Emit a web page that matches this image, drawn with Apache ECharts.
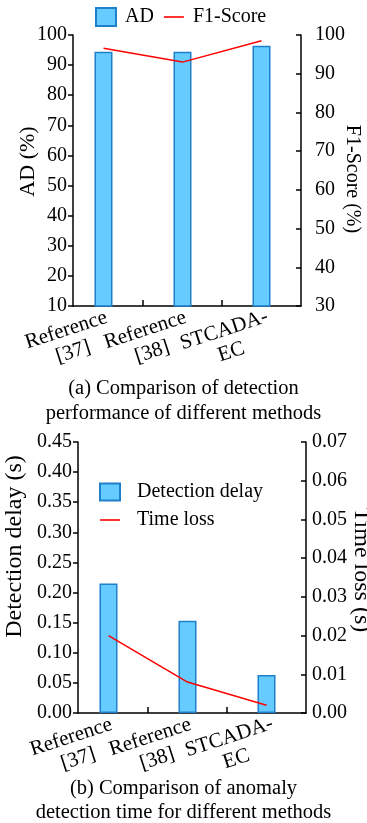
<!DOCTYPE html>
<html>
<head>
<meta charset="utf-8">
<script src="https://cdn.jsdelivr.net/npm/echarts@6/dist/echarts.min.js"></script>
<style>
  html, body { margin: 0; padding: 0; background: #fff; }
  #chart { width: 367px; height: 823px; }
</style>
</head>
<body>
<div id="chart"></div>
<script>
// Methods compared in both panels
const methods = ['Reference\n[37]', 'Reference\n[38]', 'STCADA-\nEC'];

// Panel (a): detection performance
const adValues = [94.4, 94.4, 96.4];        // AD (%)
const f1Values = [96.6, 93.0, 98.5];        // F1-Score (%)

// Panel (b): detection time
const delayValues = [0.215, 0.153, 0.063];  // Detection delay (s)
const lossValues = [0.020, 0.008, 0.002];   // Time loss (s)

const FONT = 'Liberation Serif';
const BLACK = '#000';
const BAR_FILL = '#66CCFF';
const BAR_EDGE = '#1E7FCB';
const LINE_RED = '#FF0000';
// thin horizontal bar used as the legend swatch of the line series
const LINE_ICON = 'path://M0,0h20v1.6h-20z';

// methods sit at x = 0, 1, 2; the plot starts a little before the first one
const X_MIN = -0.386;
const X_MAX = 2.5;
const methodIdx = methods.map((_, i) => i);
const pairs = vals => vals.map((v, i) => [methodIdx[i], v]);
// blank end labels keep the method names from being treated as min/max labels
const labelSlots = [X_MIN + 0.05, ...methodIdx, X_MAX - 0.05];

function xLabelFormatter(v) {
  if (Math.abs(v - Math.round(v)) > 1e-6) return '';
  const name = methods[Math.round(v)] || '';
  return name.split('\n').map(s => '{t|' + s + '}').join('\n');
}

function makeXAxis(gridIndex) {
  return {
    type: 'value',
    gridIndex: gridIndex,
    min: X_MIN,
    max: X_MAX,
    axisLine: { show: true, onZero: false, lineStyle: { color: BLACK, width: 1.5 } },
    axisTick: { show: true, inside: true, length: 6, customValues: [0.5, 1.5],
                lineStyle: { color: BLACK, width: 1.5 } },
    axisLabel: {
      customValues: labelSlots,
      hideOverlap: false,
      rotate: 18,
      margin: 0,
      align: 'right',
      verticalAlign: 'top',
      formatter: xLabelFormatter,
      rich: {
        t: { fontFamily: FONT, fontSize: 21, color: BLACK, width: 86, align: 'center', lineHeight: 23 }
      }
    },
    splitLine: { show: false }
  };
}

function makeYAxis(gridIndex, pos, min, max, interval, decimals, name, nameSize, nameGap, nameRotate, namePad, tickInside, labelMargin) {
  return {
    type: 'value',
    gridIndex: gridIndex,
    position: pos,
    min: min,
    max: max,
    interval: interval,
    name: name,
    nameLocation: 'middle',
    nameGap: nameGap,
    nameRotate: nameRotate,
    nameMoveOverlap: false,
    nameTextStyle: { fontFamily: FONT, fontSize: nameSize, color: BLACK, padding: namePad },
    axisLine: { show: true, onZero: false, lineStyle: { color: BLACK, width: 1.5 } },
    axisTick: { show: true, inside: tickInside, length: 5, lineStyle: { color: BLACK, width: 1.5 } },
    axisLabel: {
      fontFamily: FONT, fontSize: 20, color: BLACK, margin: labelMargin,
      formatter: v => v.toFixed(decimals)
    },
    splitLine: { show: false }
  };
}

const barStyle = { color: BAR_FILL, borderColor: BAR_EDGE, borderWidth: 1.5 };
const captionStyle = { fontFamily: FONT, fontSize: 20.5, fontWeight: 'normal', color: BLACK };

const option = {
  animation: false,
  backgroundColor: '#fff',
  title: [
    { text: '(a) Comparison of detection', left: 'center', top: 373, textStyle: captionStyle },
    { text: 'performance of different methods', left: 'center', top: 398, textStyle: captionStyle },
    { text: '(b) Comparison of anomaly', left: 'center', top: 773, textStyle: captionStyle },
    { text: 'detection time for different methods', left: 'center', top: 797, textStyle: captionStyle }
  ],
  legend: [
    {
      data: [
        { name: 'AD', icon: 'rect' },
        { name: 'F1-Score', icon: LINE_ICON }
      ],
      left: 90, top: 2,
      orient: 'horizontal',
      itemWidth: 20, itemHeight: 18, itemGap: 10,
      textStyle: { fontFamily: FONT, fontSize: 20, color: BLACK, padding: [0, 0, 0, 4] }
    },
    {
      data: [
        { name: 'Detection delay', icon: 'rect' },
        { name: 'Time loss', icon: LINE_ICON }
      ],
      left: 94, top: 477,
      orient: 'vertical',
      itemWidth: 20, itemHeight: 17, itemGap: 8,
      textStyle: { fontFamily: FONT, fontSize: 20, color: BLACK, padding: [0, 0, 0, 12] }
    }
  ],
  grid: [
    { left: 73, right: 66, top: 35, height: 271, containLabel: false, outerBoundsMode: 'none' },
    { left: 78, right: 61, top: 442, height: 271, containLabel: false, outerBoundsMode: 'none' }
  ],
  xAxis: [makeXAxis(0), makeXAxis(1)],
  yAxis: [
    makeYAxis(0, 'left', 10, 100, 10, 0, 'AD (%)', 22, 34, 90, [0, 0, 0, 18], false, 6),
    makeYAxis(0, 'right', 30, 100, 10, 0, 'F1-Score (%)', 20, 41, -90, [0, 0, 0, 17], true, 14),
    makeYAxis(1, 'left', 0, 0.45, 0.05, 2, 'Detection delay (s)', 24, 51, 90, [0, 0, 0, 62], false, 6),
    makeYAxis(1, 'right', 0, 0.07, 0.01, 2, 'Time loss (s)', 24, 43, -90, [0, 15, 0, 0], true, 6)
  ],
  series: [
    {
      name: 'AD', type: 'bar', xAxisIndex: 0, yAxisIndex: 0,
      data: pairs(adValues), barWidth: 18, itemStyle: barStyle
    },
    {
      name: 'F1-Score', type: 'line', xAxisIndex: 0, yAxisIndex: 1,
      data: pairs(f1Values), symbol: 'none', lineStyle: { color: LINE_RED, width: 1.5 },
      itemStyle: { color: LINE_RED }
    },
    {
      name: 'Detection delay', type: 'bar', xAxisIndex: 1, yAxisIndex: 2,
      data: pairs(delayValues), barWidth: 18, itemStyle: barStyle
    },
    {
      name: 'Time loss', type: 'line', xAxisIndex: 1, yAxisIndex: 3,
      data: pairs(lossValues), symbol: 'none', lineStyle: { color: LINE_RED, width: 1.5 },
      itemStyle: { color: LINE_RED }
    }
  ]
};

const chart = echarts.init(document.getElementById('chart'), null, { renderer: 'canvas' });
chart.setOption(option);
</script>
</body>
</html>
